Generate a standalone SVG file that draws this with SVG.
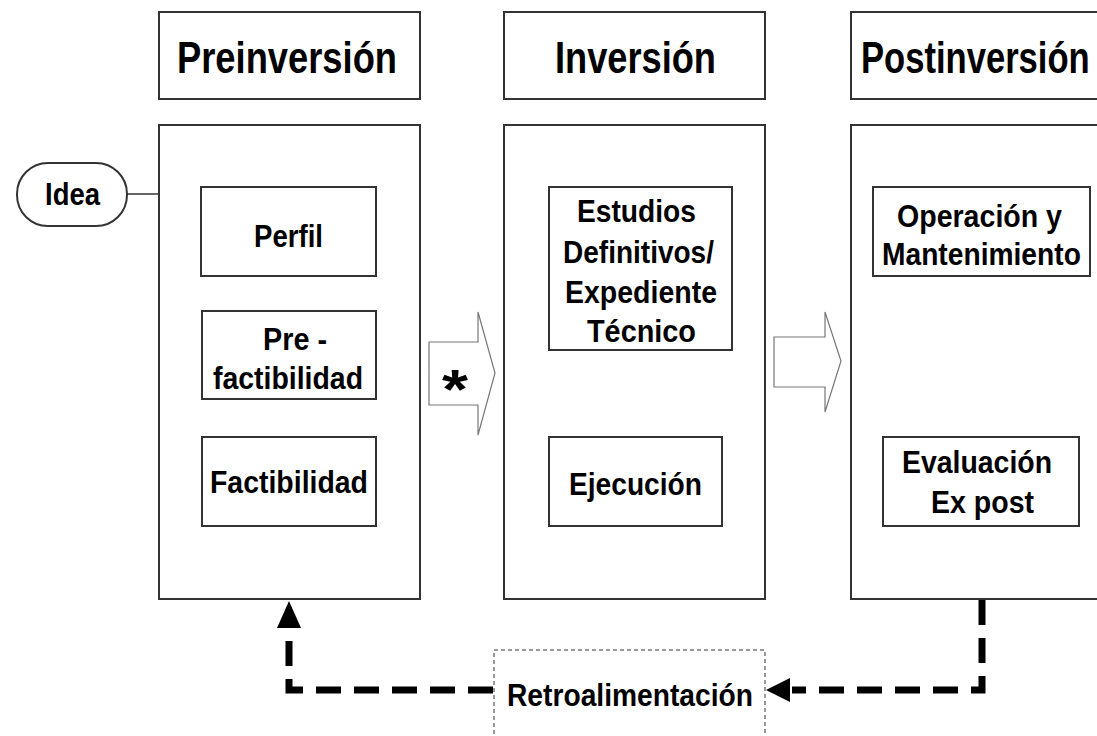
<svg xmlns="http://www.w3.org/2000/svg" width="1097" height="736" viewBox="0 0 1097 736">
<defs>
<style>
.box{fill:#fff;stroke:#333;stroke-width:2}
.t{font-family:"Liberation Sans",Arial,sans-serif;font-weight:bold;fill:#000}
.h{font-size:44px}
.i{font-size:31px}
.fat{fill:#fff;stroke:#777;stroke-width:1.2}
.fb{fill:none;stroke:#000;stroke-width:7;stroke-dasharray:25 13}
</style>
</defs>
<rect width="1097" height="736" fill="#fff"/>
<g id="preinversion">
<rect class="box" x="159" y="12" width="261" height="87"/>
<text class="t h" x="177" y="73" textLength="220" lengthAdjust="spacingAndGlyphs">Preinversión</text>
<rect class="box" x="159" y="125" width="261" height="474"/>
</g>
<g id="idea">
<rect class="box" x="17" y="163" width="110" height="63" rx="31" ry="31"/>
<text class="t" font-size="31" x="45" y="205" textLength="55" lengthAdjust="spacingAndGlyphs">Idea</text>
</g>
<g id="perfil">
<rect class="box" x="201" y="187" width="175" height="89"/>
<text class="t i" x="254" y="247" textLength="69" lengthAdjust="spacingAndGlyphs">Perfil</text>
</g>
<g id="prefactibilidad">
<rect class="box" x="202" y="311" width="174" height="88"/>
<text class="t i" x="263" y="350" textLength="64" lengthAdjust="spacingAndGlyphs">Pre -</text>
<text class="t i" x="213" y="389" textLength="150" lengthAdjust="spacingAndGlyphs">factibilidad</text>
</g>
<g id="factibilidad">
<rect class="box" x="202" y="437" width="174" height="89"/>
<text class="t i" x="210" y="493" textLength="158" lengthAdjust="spacingAndGlyphs">Factibilidad</text>
</g>
<g id="inversion">
<rect class="box" x="504" y="12" width="261" height="87"/>
<text class="t h" x="555" y="73" textLength="161" lengthAdjust="spacingAndGlyphs">Inversión</text>
<rect class="box" x="504" y="125" width="261" height="474"/>
</g>
<g id="estudios">
<rect class="box" x="549" y="187" width="183" height="163"/>
<text class="t i" x="577" y="222" textLength="119" lengthAdjust="spacingAndGlyphs">Estudios</text>
<text class="t i" x="563" y="263" textLength="151" lengthAdjust="spacingAndGlyphs">Definitivos/</text>
<text class="t i" x="565" y="303" textLength="152" lengthAdjust="spacingAndGlyphs">Expediente</text>
<text class="t i" x="587" y="342" textLength="109" lengthAdjust="spacingAndGlyphs">Técnico</text>
</g>
<g id="ejecucion">
<rect class="box" x="549" y="437" width="173" height="89"/>
<text class="t i" x="569" y="495" textLength="133" lengthAdjust="spacingAndGlyphs">Ejecución</text>
</g>
<g id="postinversion">
<path class="box" d="M1098,12 H851 V99 H1098"/>
<text class="t" font-size="34.6" transform="translate(861,73) scale(1,1.27)" x="0" y="0">Postinversión</text>
<path class="box" d="M1098,125 H851 V599 H1098"/>
</g>
<g id="operacion">
<rect class="box" x="873" y="187" width="217" height="89"/>
<text class="t i" x="897" y="227" textLength="165" lengthAdjust="spacingAndGlyphs">Operación y</text>
<text class="t" font-size="28.2" transform="translate(882,265) scale(1,1.1)" x="0" y="0">Mantenimiento</text>
</g>
<g id="evaluacion">
<rect class="box" x="883" y="437" width="196" height="89"/>
<text class="t i" x="902" y="473" textLength="150" lengthAdjust="spacingAndGlyphs">Evaluación</text>
<text class="t i" x="931" y="513" textLength="103" lengthAdjust="spacingAndGlyphs">Ex post</text>
</g>
<g id="retroalimentacion">
<rect x="494" y="650" width="271" height="100" fill="#fff" stroke="#333" stroke-width="1" stroke-dasharray="4 3"/>
<text class="t" font-size="31" x="507" y="706" textLength="246" lengthAdjust="spacingAndGlyphs">Retroalimentación</text>
</g>
<g id="connectors">
<line x1="127" y1="194" x2="159" y2="194" stroke="#333" stroke-width="1.5"/>
<polygon class="fat" points="429,342 478,342 478,312 495,373 478,435 478,405 429,405"/>
<text class="t" font-size="56" x="442" y="408" textLength="26" lengthAdjust="spacingAndGlyphs">*</text>
<polygon class="fat" points="774,337 825,337 825,312 841,361 825,412 825,387 774,387"/>
<path class="fb" d="M982,600 V690 H792"/>
<polygon points="766,690 790,678 790,702" fill="#000"/>
<path class="fb" d="M493,690 H289 V630"/>
<polygon points="289,601 277,628 301,628" fill="#000"/>
</g>
</svg>
